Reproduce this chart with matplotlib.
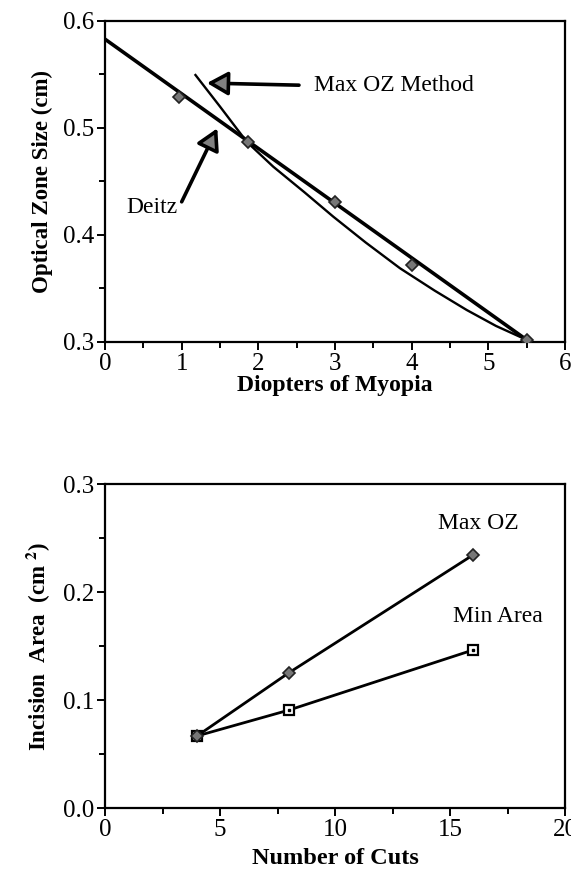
import matplotlib
matplotlib.use("Agg")
import matplotlib.pyplot as plt
from matplotlib.ticker import MultipleLocator

plt.rcParams['font.family'] = ['Liberation Serif', 'DejaVu Serif']
plt.rcParams['mathtext.fontset'] = 'stix'

# top panel: optical zone size vs myopia
deitz_x = [0.0, 5.50]
deitz_y = [0.583, 0.302]
pts_x = [0.965, 1.87, 3.0, 4.0, 5.50]
pts_y = [0.529, 0.487, 0.431, 0.372, 0.302]
maxoz_x = [1.18, 1.50, 1.85, 2.195, 2.60, 2.978, 3.40, 3.848, 4.30, 4.718, 5.10, 5.50]
maxoz_y = [0.5495, 0.520, 0.487, 0.4638, 0.440, 0.4171, 0.393, 0.3689, 0.348, 0.3299, 0.315, 0.302]

# bottom panel: incision area vs number of cuts
cuts = [4, 8, 16]
area_maxoz = [0.0667, 0.1253, 0.2343]
area_min = [0.0667, 0.0907, 0.1463]

fig = plt.figure(figsize=(5.71, 8.74), dpi=100)
ax1 = fig.add_axes([0.1839, 0.6087, 0.8056, 0.3673])
ax2 = fig.add_axes([0.1839, 0.0755, 0.8056, 0.3707])

for ax in (ax1, ax2):
    for s in ax.spines.values():
        s.set_linewidth(1.6)
    ax.tick_params(which='both', direction='out', top=False, right=False,
                   labelsize=18, width=1.4, pad=2)
    ax.tick_params(which='major', length=6)
    ax.tick_params(which='minor', length=4)

# ---- top
ax1.plot(deitz_x, deitz_y, color='black', lw=2.6, zorder=3)
ax1.plot(maxoz_x, maxoz_y, color='black', lw=1.7, zorder=3)
ax1.plot(pts_x, pts_y, linestyle='none', marker='D', ms=6, mfc='#777777',
         mec='#222222', mew=1.2, zorder=4)
ax1.set_xlim(0, 6)
ax1.set_ylim(0.3, 0.6)
ax1.xaxis.set_major_locator(MultipleLocator(1))
ax1.xaxis.set_minor_locator(MultipleLocator(0.5))
ax1.yaxis.set_major_locator(MultipleLocator(0.1))
ax1.yaxis.set_minor_locator(MultipleLocator(0.05))
ax1.set_xlabel('Diopters of Myopia', fontsize=17, fontweight='bold', labelpad=0)
ax1.set_ylabel('Optical Zone Size (cm)', fontsize=16.5, fontweight='bold', labelpad=7)

arrow_kw = dict(arrowstyle='-|>,head_length=0.8,head_width=0.45', lw=2.6,
                fc='#808080', ec='black', shrinkA=0, shrinkB=0)
ax1.annotate('', xy=(1.33, 0.542), xytext=(2.53, 0.540), arrowprops=arrow_kw,
             fontsize=16)
ax1.text(2.72, 0.540, 'Max OZ Method', fontsize=17, ha='left', va='center')
ax1.annotate('', xy=(1.465, 0.4997), xytext=(1.0, 0.431), arrowprops=arrow_kw,
             fontsize=16)
ax1.text(0.28, 0.426, 'Deitz', fontsize=17, ha='left', va='center')

# ---- bottom
ax2.plot(cuts, area_maxoz, color='black', lw=2.0, marker='D', ms=6,
         mfc='#777777', mec='#222222', mew=1.2, zorder=4)
ax2.plot(cuts, area_min, color='black', lw=2.0, marker='s', ms=7,
         mfc='white', mec='black', mew=1.6, zorder=3)
ax2.plot(cuts[1:], area_min[1:], linestyle='none', marker='s', ms=1.8,
         color='black', zorder=5)
ax2.set_xlim(0, 20)
ax2.set_ylim(0, 0.3)
ax2.xaxis.set_major_locator(MultipleLocator(5))
ax2.xaxis.set_minor_locator(MultipleLocator(2.5))
ax2.yaxis.set_major_locator(MultipleLocator(0.1))
ax2.yaxis.set_minor_locator(MultipleLocator(0.05))
ax2.yaxis.set_major_formatter(matplotlib.ticker.FormatStrFormatter('%.1f'))
ax2.set_xlabel('Number of Cuts', fontsize=17.5, fontweight='bold', labelpad=5)
ax2.set_ylabel(r'Incision  Area  (cm $^{\mathbf{2}}$)', fontsize=16.5,
               fontweight='bold', labelpad=7)
ax2.text(16.23, 0.263, 'Max OZ', fontsize=17, ha='center', va='center')
ax2.text(17.06, 0.177, 'Min Area', fontsize=17, ha='center', va='center')

fig.savefig('out.png', dpi=100)
